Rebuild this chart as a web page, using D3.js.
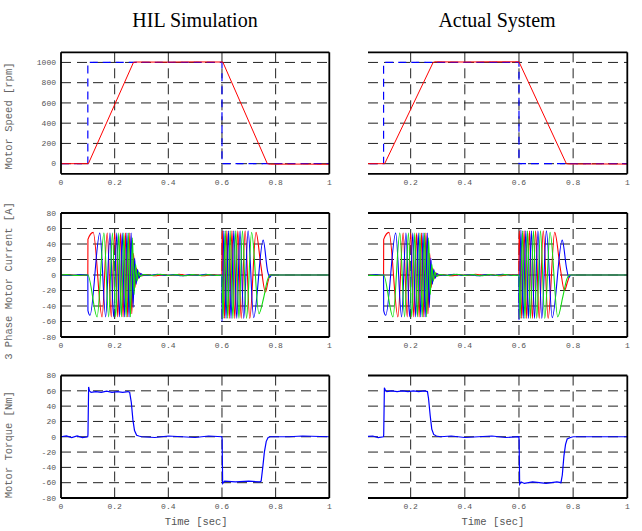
<!DOCTYPE html>
<html>
<head>
<meta charset="utf-8">
<title>HIL vs actual system</title>
<script src="https://d3js.org/d3.v7.min.js"></script>
<style>
  body { margin: 0; background: #fff; }
</style>
</head>
<body>
<script>
// ---- values, [time (s), value] ----
var xTicks = [0, 0.2, 0.4, 0.6, 0.8, 1];
var speedTicks = [0, 200, 400, 600, 800, 1000];
var ampTicks = [-80, -60, -40, -20, 0, 20, 40, 60, 80];

// motor speed [rpm]
var speedRef = [[0,0],[0.1,0],[0.1,1000],[0.6,1000],[0.6,0],[1,0]];
var hilSpeed = [[0,0],[0.102,0],[0.27,1000],[0.28,1004],[0.40,1003],[0.50,1005],[0.603,1004],[0.769,0],[0.78,-5],[0.90,-4],[1,-6]];
var actSpeed = [[0.03,0],[0.104,0],[0.283,1000],[0.29,1006],[0.40,1004],[0.50,1006],[0.60,1006],[0.775,0],[0.785,-3],[0.90,-3],[1,-4]];

// phase currents [A] : before start, acceleration, idle, deceleration, after stop
var preIa = [[0,0],[0.03,0.5],[0.06,-0.5],[0.0995,0]];
var preIb = [[0,0],[0.04,-0.5],[0.07,0.5],[0.0995,0]];
var preIc = [[0,0],[0.02,0.5],[0.05,-0.5],[0.0995,0]];

var accIa = [[0.1,0],[0.1004,46],[0.1200,55],[0.1530,-54],[0.1722,54],[0.1873,-54],[0.2002,54],[0.2115,-54],[0.2218,54],[0.2313,-54],[0.2402,54],[0.2485,-54],[0.2564,54],[0.2639,-50],[0.2705,28],[0.2760,-16],[0.2815,9],[0.2870,-5],[0.2930,3],[0.3000,-1]];
var accIb = [[0.1,0],[0.1004,-46],[0.1080,-52],[0.1447,54],[0.1665,-54],[0.1826,54],[0.1960,-54],[0.2078,54],[0.2185,-54],[0.2282,54],[0.2373,-54],[0.2458,54],[0.2538,-54],[0.2614,54],[0.2687,-42],[0.2745,22],[0.2800,-12],[0.2855,7],[0.2910,-4],[0.2970,2],[0.3050,0]];
var accIc = [[0.1,0],[0.1346,-54],[0.1600,54],[0.1776,-54],[0.1918,54],[0.2040,-54],[0.2151,54],[0.2251,-54],[0.2343,54],[0.2430,-54],[0.2512,54],[0.2590,-54],[0.2663,48],[0.2725,-25],[0.2780,14],[0.2835,-8],[0.2890,4],[0.2950,-2],[0.3030,0]];

var idleIa = [[0.32,0.5],[0.35,-1],[0.38,0.5],[0.41,-0.5],[0.44,1],[0.47,-0.5],[0.50,0.5],[0.53,-1],[0.56,0.5],[0.59,0],[0.5995,0]];
var idleIb = [[0.33,-0.5],[0.36,1],[0.39,-0.5],[0.42,0.5],[0.45,-1],[0.48,0.5],[0.51,-0.5],[0.54,1],[0.57,-0.5],[0.5995,0]];
var idleIc = [[0.31,0.5],[0.34,-0.5],[0.37,1],[0.40,-0.5],[0.43,0.5],[0.46,-1],[0.49,0.5],[0.52,-0.5],[0.55,0.5],[0.58,-0.5],[0.5995,0]];

var hilDecIa = [[0.6,40],[0.6013,57],[0.6095,-56],[0.6182,57],[0.6273,-56],[0.6371,57],[0.6476,-56],[0.6590,57],[0.6717,-56],[0.6862,57],[0.7036,-56],[0.7268,55],[0.745,12],[0.762,-22],[0.772,-8],[0.78,0]];
var hilDecIb = [[0.6,-60],[0.6068,57],[0.6152,-56],[0.6242,57],[0.6337,-56],[0.6440,57],[0.6551,-56],[0.6673,57],[0.6811,-56],[0.6973,57],[0.7180,-55],[0.7535,45],[0.770,5],[0.778,-3],[0.785,0]];
var hilDecIc = [[0.6,0],[0.6040,-56],[0.6124,57],[0.6212,-56],[0.6305,57],[0.6405,-56],[0.6513,57],[0.6631,-56],[0.6763,57],[0.6916,-56],[0.7104,55],[0.7377,-50],[0.755,-30],[0.770,-6],[0.78,0]];

var actDecIa = [[0.6,40],[0.6014,57],[0.6099,-56],[0.6189,57],[0.6284,-56],[0.6386,57],[0.6495,-56],[0.6614,57],[0.6746,-56],[0.6896,57],[0.7077,-56],[0.7319,55],[0.752,10],[0.768,-20],[0.780,-8],[0.790,0]];
var actDecIb = [[0.6,-58],[0.6071,58],[0.6158,-56],[0.6252,57],[0.6350,-56],[0.6458,57],[0.6573,-56],[0.6700,57],[0.6843,-56],[0.7012,57],[0.7227,-55],[0.7596,45],[0.776,8],[0.784,-3],[0.792,0]];
var actDecIc = [[0.6,0],[0.6042,-56],[0.6129,57],[0.6220,-56],[0.6317,57],[0.6421,-56],[0.6534,57],[0.6656,-56],[0.6794,57],[0.6953,-56],[0.7148,55],[0.7432,-54],[0.762,-28],[0.777,-5],[0.788,0]];

var hilPost = [[0.82,0],[0.9,0],[1,0]];
var actPost = [[0.82,0],[0.9,0],[1,0]];

// motor torque [Nm]
var hilTorque = [[0,0],[0.02,1],[0.04,-1],[0.06,1],[0.08,-1],[0.0995,0],[0.1005,3],[0.103,65],[0.106,60],[0.112,58],[0.13,59],[0.15,58],[0.17,59.5],[0.19,58],[0.21,59],[0.23,58],[0.25,59],[0.256,58],[0.262,45],[0.268,22],[0.274,8],[0.282,2],[0.29,1],[0.30,0],[0.35,-1],[0.40,1],[0.45,0],[0.50,-1],[0.55,1],[0.5995,0],[0.6005,-3],[0.6025,-61],[0.61,-58],[0.65,-59],[0.70,-58],[0.74,-59],[0.746,-58],[0.752,-40],[0.758,-20],[0.765,-6],[0.772,-1],[0.78,0],[0.85,0],[0.9,1],[1,0]];
var actTorque = [[0.03,0],[0.06,1],[0.08,-1],[0.0995,0],[0.1005,3],[0.103,64],[0.106,61],[0.112,59],[0.13,60],[0.15,59],[0.17,60],[0.19,59],[0.21,60],[0.23,59],[0.25,60],[0.262,59],[0.266,50],[0.272,28],[0.278,10],[0.285,3],[0.295,1],[0.31,0],[0.35,1],[0.40,-1],[0.45,0],[0.50,1],[0.55,-1],[0.5995,0],[0.6005,-5],[0.6025,-62],[0.608,-59],[0.62,-61],[0.65,-59],[0.70,-61],[0.74,-59],[0.755,-60],[0.760,-50],[0.766,-25],[0.772,-10],[0.778,-3],[0.79,-1],[0.80,0],[1,0]];

var yLabels = ["Motor Speed [rpm]", "3 Phase Motor Current [A]", "Motor Torque [Nm]"];

var RED = "#ff0000", BLUE = "#0000ff", GREEN = "#10dd10";

var svg = d3.select("body").append("svg")
  .attr("width", 642).attr("height", 531);

svg.append("text").attr("x", 195).attr("y", 27).attr("text-anchor", "middle")
  .style("font-family", "'Liberation Serif', 'Times New Roman', serif").style("font-size", "20px")
  .text("HIL Simulation");
svg.append("text").attr("x", 497).attr("y", 27).attr("text-anchor", "middle")
  .style("font-family", "'Liberation Serif', 'Times New Roman', serif").style("font-size", "20px")
  .text("Actual System");

var clipN = 0;
var mono = "'Liberation Mono', 'DejaVu Sans Mono', monospace";

function panel(o) {
  var x = d3.scaleLinear().domain([0, 1]).range([o.x0, o.x1]);
  var y = d3.scaleLinear().domain(o.yDomain).range([o.y1, o.y0]);
  var g = svg.append("g");
  var id = "clip" + (clipN++);

  g.append("clipPath").attr("id", id).append("rect")
    .attr("x", o.left).attr("y", o.y0)
    .attr("width", o.x1 - o.left).attr("height", o.y1 - o.y0);

  // dashed grid
  g.selectAll(".vg").data(xTicks.filter(function(t){ return x(t) > o.left + 2 && x(t) < o.x1 - 2; }))
    .enter().append("line")
    .attr("x1", function(d){ return x(d); }).attr("x2", function(d){ return x(d); })
    .attr("y1", o.y0).attr("y2", o.y1)
    .attr("stroke", "#222").attr("stroke-width", 1).attr("stroke-dasharray", "10,6");
  g.selectAll(".hg").data(o.yTicks.filter(function(v){ return y(v) > o.y0 + 2 && y(v) < o.y1 - 2; }))
    .enter().append("line")
    .attr("y1", function(d){ return y(d); }).attr("y2", function(d){ return y(d); })
    .attr("x1", o.left).attr("x2", o.x1)
    .attr("stroke", "#222").attr("stroke-width", 1).attr("stroke-dasharray", "10,6");

  // data
  o.series.forEach(function(s) {
    var line = d3.line()
      .x(function(d){ return x(d[0]); })
      .y(function(d){ return y(d[1]); })
      .curve(s.smooth ? d3.curveMonotoneX : d3.curveLinear);
    g.append("path").datum(s.data)
      .attr("clip-path", "url(#" + id + ")")
      .attr("d", line)
      .attr("fill", "none")
      .attr("stroke", s.color)
      .attr("stroke-width", s.width || 1)
      .attr("stroke-dasharray", s.dash || null);
  });

  // frame (the right-hand plots are cut at their left edge)
  var fr = g.append("g").attr("stroke", "#000").attr("stroke-width", 1.8).attr("fill", "none");
  fr.append("line").attr("x1", o.left).attr("x2", o.x1).attr("y1", o.y0).attr("y2", o.y0);
  fr.append("line").attr("x1", o.left).attr("x2", o.x1).attr("y1", o.y1).attr("y2", o.y1);
  fr.append("line").attr("x1", o.x1).attr("x2", o.x1).attr("y1", o.y0).attr("y2", o.y1);
  if (o.yLabels) {
    fr.append("line").attr("x1", o.x0).attr("x2", o.x0).attr("y1", o.y0).attr("y2", o.y1);
  }

  // tick labels
  g.selectAll(".xl").data(xTicks.filter(function(t){ return x(t) >= o.left - 1; }))
    .enter().append("text")
    .attr("x", function(d){ return x(d); }).attr("y", o.y1 + 11)
    .attr("text-anchor", "middle")
    .style("font-family", mono).style("font-size", "8px").style("fill", "#555")
    .text(function(d){ return d3.format("~g")(d); });
  if (o.yLabels) {
    g.selectAll(".yl").data(o.yTicks)
      .enter().append("text")
      .attr("x", o.x0 - 5).attr("y", function(d){ return y(d); }).attr("dy", "0.35em")
      .attr("text-anchor", "end")
      .style("font-family", mono).style("font-size", "8px").style("fill", "#555")
      .text(function(d){ return d; });
  }
  if (o.title) {
    g.append("text")
      .attr("transform", "translate(12," + ((o.y0 + o.y1) / 2 + o.titleShift) + ") rotate(-90)")
      .attr("text-anchor", "middle")
      .style("font-family", mono).style("font-size", "10.5px").style("fill", "#666")
      .text(o.title);
  }
  if (o.xTitle) {
    g.append("text").attr("x", (o.x0 + o.x1) / 2 + 1).attr("y", o.y1 + 27)
      .attr("text-anchor", "middle")
      .style("font-family", mono).style("font-size", "10.5px").style("fill", "#555")
      .text(o.xTitle);
  }
}

var L = { x0: 61, x1: 329.3, left: 61, yLabels: true };
var R = { x0: 356.5, x1: 627.3, left: 368, yLabels: false };
var rows = [
  { y0: 52.3, y1: 173.8, yDomain: [-100, 1100], yTicks: speedTicks },
  { y0: 213, y1: 337, yDomain: [-80, 80], yTicks: ampTicks },
  { y0: 375.5, y1: 498, yDomain: [-80, 80], yTicks: ampTicks }
];

function cfg(side, row, extra) {
  return Object.assign({}, side, row, extra);
}

// speed
panel(cfg(L, rows[0], { title: yLabels[0], titleShift: 3, series: [
  { data: speedRef, color: BLUE, dash: "8,5", width: 1.2 },
  { data: hilSpeed, color: RED, width: 1 }
]}));
panel(cfg(R, rows[0], { series: [
  { data: speedRef, color: BLUE, dash: "8,5", width: 1.2 },
  { data: actSpeed, color: RED, width: 1 }
]}));

// currents
panel(cfg(L, rows[1], { title: yLabels[1], titleShift: 6, series: [
  { data: preIa.concat(accIa, idleIa, hilDecIa, hilPost), color: RED, smooth: true, width: 1.1 },
  { data: preIb.concat(accIb, idleIb, hilDecIb, hilPost), color: BLUE, smooth: true, width: 1.1 },
  { data: preIc.concat(accIc, idleIc, hilDecIc, hilPost), color: GREEN, smooth: true, width: 1.1 }
]}));
panel(cfg(R, rows[1], { series: [
  { data: preIa.concat(accIa, idleIa, actDecIa, actPost), color: RED, smooth: true, width: 1.1 },
  { data: preIb.concat(accIb, idleIb, actDecIb, actPost), color: BLUE, smooth: true, width: 1.1 },
  { data: preIc.concat(accIc, idleIc, actDecIc, actPost), color: GREEN, smooth: true, width: 1.1 }
]}));

// torque
panel(cfg(L, rows[2], { title: yLabels[2], titleShift: 8, xTitle: "Time [sec]", series: [
  { data: hilTorque, color: BLUE, width: 1.2 }
]}));
panel(cfg(R, rows[2], { xTitle: "Time [sec]", series: [
  { data: actTorque, color: BLUE, width: 1.2 }
]}));
</script>
</body>
</html>
